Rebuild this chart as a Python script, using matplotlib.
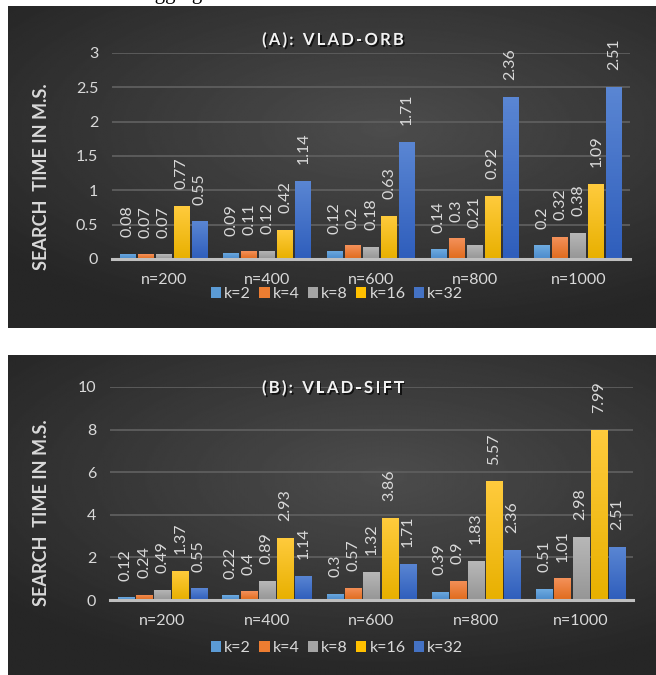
import numpy as np
import matplotlib
matplotlib.use("Agg")
import matplotlib.pyplot as plt
import matplotlib.patheffects as pe
from matplotlib.patches import Patch

plt.rcParams['font.family'] = ['Lato', 'DejaVu Sans']

categories = ['n=200', 'n=400', 'n=600', 'n=800', 'n=1000']
series = ['k=2', 'k=4', 'k=8', 'k=16', 'k=32']

orb_k2 = [0.08, 0.09, 0.12, 0.14, 0.2]
orb_k4 = [0.07, 0.11, 0.2, 0.3, 0.32]
orb_k8 = [0.07, 0.12, 0.18, 0.21, 0.38]
orb_k16 = [0.77, 0.42, 0.63, 0.92, 1.09]
orb_k32 = [0.55, 1.14, 1.71, 2.36, 2.51]

sift_k2 = [0.12, 0.22, 0.3, 0.39, 0.51]
sift_k4 = [0.24, 0.4, 0.57, 0.9, 1.01]
sift_k8 = [0.49, 0.89, 1.32, 1.83, 2.98]
sift_k16 = [1.37, 2.93, 3.86, 5.57, 7.99]
sift_k32 = [0.55, 1.14, 1.71, 2.36, 2.51]

orb_ticks = [0, 0.5, 1, 1.5, 2, 2.5, 3]
orb_ticklabels = ['0', '0.5', '1', '1.5', '2', '2.5', '3']
sift_ticks = [0, 2, 4, 6, 8, 10]
sift_ticklabels = ['0', '2', '4', '6', '8', '10']

colors = ['#5B9BD5', '#ED7D31', '#A5A5A5', '#FFC000', '#4472C4']
top_colors = ['#6EABE0', '#F4915A', '#B8B8B8', '#FFCB3D', '#5A86D3']
bot_colors = ['#4A8ACB', '#E06B1C', '#969696', '#E8B000', '#2F5EBC']

W, H = 656, 675
TXT = '#D9D9D9'
FS = 11.5

fig = plt.figure(figsize=(W / 100, H / 100), dpi=100)
fig.patch.set_facecolor('white')

# cut-off caption above the first panel (only its lower part is visible, as in the source)
fig.text(36 / W, 1 + 1.5 / H, 'with various aggregated vector variations', family='Liberation Serif',
         fontsize=15, color='black', ha='left', va='baseline', zorder=0)


def panel_bg(rect):
    bg = fig.add_axes(rect, zorder=1)
    yy, xx = np.mgrid[0:1:300j, 0:1:300j]
    d = np.sqrt(((xx - 0.58) / 1.0) ** 2 + ((yy - 0.62) / 0.85) ** 2)
    v = 0.30 - 0.15 * np.clip(d / 0.75, 0, 1)
    bg.imshow(v, extent=[0, 1, 0, 1], origin='lower', cmap='gray', vmin=0, vmax=1,
              aspect='auto', interpolation='bilinear')
    bg.set_xlim(0, 1)
    bg.set_ylim(0, 1)
    bg.axis('off')


def spaced_title(s, xc_px, yc_px, spacing, **kw):
    r = fig.canvas.get_renderer()
    widths = []
    for ch in s:
        if ch == ' ':
            widths.append(5.0)
            continue
        t = fig.text(0, 0, ch, **kw)
        widths.append(t.get_window_extent(r).width)
        t.remove()
    total = sum(widths) + spacing * (len(s) - 1)
    x = xc_px - total / 2
    for ch, w in zip(s, widths):
        if ch != ' ':
            fig.text(x / W, 1 - yc_px / H, ch, ha='left', va='center', zorder=5,
                     path_effects=[pe.SimplePatchShadow(offset=(1.2, -1.2), shadow_rgbFace='black', alpha=0.7),
                                   pe.Normal()], **kw)
        x += w + spacing


def draw_chart(rect, data, ticks, ticklabels, ymax, title, title_y, ylabel_y, legend_y):
    ax = fig.add_axes(rect, zorder=2)
    ax.patch.set_alpha(0)
    n = len(categories)
    step = 0.174
    width = 0.154
    x = np.arange(n)
    for j, (name, vals) in enumerate(zip(series, data)):
        pos = x + (j - 2) * step
        bars = ax.bar(pos, vals, width, color=colors[j], zorder=3, label=name, linewidth=0)
        cmap = matplotlib.colors.LinearSegmentedColormap.from_list('g', [bot_colors[j], top_colors[j]])
        for b, v in zip(bars, vals):
            im = ax.imshow(np.linspace(0, 1, 50).reshape(-1, 1), cmap=cmap, origin='lower',
                           extent=[b.get_x(), b.get_x() + b.get_width(), 0, b.get_height()],
                           aspect='auto', zorder=3.5)
            im.set_clip_path(b)
            ax.annotate(f'{v:g}', (b.get_x() + b.get_width() / 2, b.get_height()),
                        xytext=(0, 12), textcoords='offset points', rotation=90,
                        ha='center', va='bottom', color=TXT, fontsize=FS, zorder=5)
    ax.set_xlim(-0.5, n - 0.5)
    ax.set_ylim(0, ymax)
    ax.set_yticks(ticks)
    ax.set_yticklabels(ticklabels)
    ax.set_xticks(x)
    ax.set_xticklabels(categories)
    ax.tick_params(axis='both', length=0, labelcolor=TXT, labelsize=FS)
    ax.tick_params(axis='y', pad=10)
    ax.tick_params(axis='x', pad=10)
    ax.grid(axis='y', color='#5E5E5E', linewidth=1.3, zorder=1)
    ax.set_axisbelow(True)
    for s in ['top', 'right', 'left']:
        ax.spines[s].set_visible(False)
    ax.spines['bottom'].set_color('#BFBFBF')
    ax.spines['bottom'].set_linewidth(2.2)
    ax.spines['bottom'].set_zorder(4)
    spaced_title(title, 333, title_y, 2.2, fontsize=12, fontweight='bold', color='#F2F2F2')
    fig.text(42 / W, 1 - ylabel_y / H, 'SEARCH  TIME IN M.S.', rotation=90, ha='center', va='center',
             fontsize=13, fontweight='bold', color=TXT, zorder=5)
    handles = [Patch(facecolor=c) for c in colors]
    leg = fig.legend(handles, series, loc='center', bbox_to_anchor=(337 / W, 1 - legend_y / H), ncol=5,
                     frameon=False, handlelength=0.65, handleheight=0.65, handletextpad=0.2,
                     columnspacing=0.5, labelcolor=TXT, fontsize=FS)
    leg.set_zorder(5)
    return ax


panel_bg([8 / W, 1 - 328 / H, 648 / W, 322 / H])
panel_bg([8 / W, 0, 648 / W, 320 / H])

draw_chart([112 / W, 1 - 259 / H, 518 / W, 206 / H],
           [orb_k2, orb_k4, orb_k8, orb_k16, orb_k32], orb_ticks, orb_ticklabels, 3,
           '(A): VLAD-ORB', 40, 177, 294)
draw_chart([110 / W, 1 - 600 / H, 523 / W, 213 / H],
           [sift_k2, sift_k4, sift_k8, sift_k16, sift_k32], sift_ticks, sift_ticklabels, 10,
           '(B): VLAD-SIFT', 388, 513, 648)

fig.savefig('out.png', dpi=100)
